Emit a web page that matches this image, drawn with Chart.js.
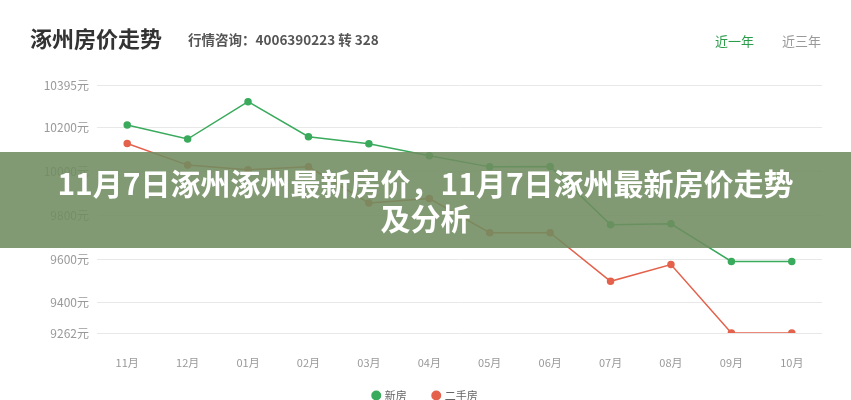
<!DOCTYPE html>
<html>
<head>
<meta charset="utf-8">
<script src="https://cdn.jsdelivr.net/npm/chart.js@4"></script>
<style>
  body { margin: 0; background: #fff; font-family: "Noto Sans CJK SC", "Noto Sans", sans-serif; }
  #wrap { position: relative; width: 851px; height: 400px; overflow: hidden; }
  #chart { position: absolute; left: 0; top: 0; }
  .title { position: absolute; left: 30px; top: 21px; font-size: 22px; font-weight: bold; color: #333; }
  .phone { position: absolute; left: 188px; top: 29px; font-size: 13.5px; font-weight: bold; color: #555; }
  .tab { position: absolute; top: 31px; font-size: 13px; }
  .overlay { position: absolute; left: 0; top: 152px; width: 851px; height: 96px;
    background: rgba(112, 140, 96, 0.88); color: #fff; font-weight: bold; font-size: 30px;
    text-align: center; line-height: 35px; padding-top: 13px; box-sizing: border-box; }
</style>
</head>
<body>
<div id="wrap">
  <canvas id="chart" width="851" height="411"></canvas>
  <div class="title">涿州房价走势</div>
  <div class="phone">行情咨询：4006390223 转 328</div>
  <div class="tab" style="left:715px;color:#2a9d4a;">近一年</div>
  <div class="tab" style="left:782px;color:#999;">近三年</div>
  <div class="overlay">11月7日涿州涿州最新房价，11月7日涿州最新房价走势<br>及分析</div>
</div>
<script>
const months = ["11月", "12月", "01月", "02月", "03月", "04月", "05月", "06月", "07月", "08月", "09月", "10月"];
const newHouse = [10212, 10148, 10319, 10159, 10127, 10072, 10021, 10023, 9757, 9761, 9589, 9589];
const usedHouse = [10128, 10029, 10008, 10021, 9856, 9876, 9720, 9720, 9498, 9575, 9262, 9262];
const yTicks = [9262, 9400, 9600, 9800, 10000, 10200, 10395];

const ctx = document.getElementById("chart").getContext("2d");
const green = "#3aaa5c";
const red = "#e4624c";

new Chart(ctx, {
  type: "line",
  data: {
    labels: months,
    datasets: [
      {
        label: "新房",
        data: newHouse,
        borderColor: green,
        backgroundColor: green,
        borderWidth: 1.5,
        pointRadius: 3,
        pointHoverRadius: 3,
        tension: 0,
      },
      {
        label: "二手房",
        data: usedHouse,
        borderColor: red,
        backgroundColor: red,
        borderWidth: 1.5,
        pointRadius: 3,
        pointHoverRadius: 3,
        tension: 0,
      },
    ],
  },
  options: {
    responsive: false,
    animation: false,
    layout: { padding: { top: 85, right: 29, bottom: 0, left: 29 } },
    plugins: {
      tooltip: { enabled: false },
      legend: {
        position: "bottom",
        labels: {
          usePointStyle: true,
          pointStyle: "circle",
          boxWidth: 6,
          boxHeight: 6,
          padding: 10,
          color: "#666",
          font: { size: 11, family: "Noto Sans CJK SC" },
          // extra gap after the first item, like the original
          generateLabels: (chart) =>
            Chart.defaults.plugins.legend.labels.generateLabels(chart).map((item, i) => {
              if (i === 0) item.text = item.text + "\u2003\u2002";
              return item;
            }),
        },
      },
    },
    scales: {
      x: {
        offset: true,
        grid: { display: false },
        border: { display: false },
        ticks: { color: "#999", font: { size: 11, family: "Noto Sans CJK SC" }, padding: 15 },
        afterFit: (axis) => { axis.height = 47; },
      },
      y: {
        min: 9262,
        max: 10395,
        border: { display: false },
        grid: { color: "#e8e8e8", drawTicks: false },
        afterBuildTicks: (axis) => { axis.ticks = yTicks.map((v) => ({ value: v })); },
        ticks: {
          color: "#999",
          font: { size: 12, family: "Noto Sans CJK SC" },
          padding: 8,
          callback: (v) => v + "元",
        },
        afterFit: (axis) => { axis.width = 68; },
      },
    },
  },
});
</script>
</body>
</html>
